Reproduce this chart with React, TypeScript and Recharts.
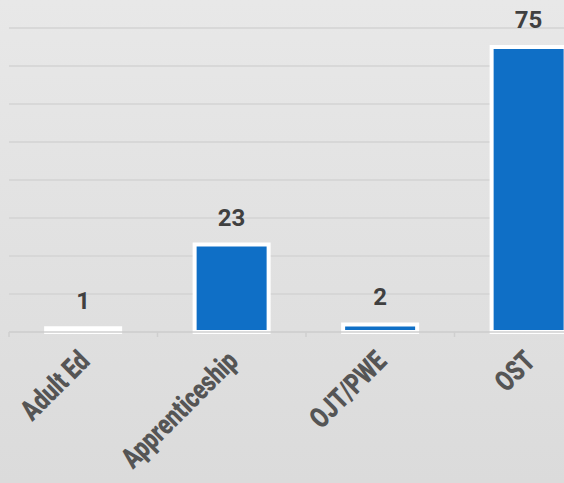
import * as React from "react";
import { Bar, BarChart, CartesianGrid, LabelList, XAxis, YAxis } from "recharts";

const categories = ["Adult Ed", "Apprenticeship", "OJT/PWE", "OST"];
const counts = [1, 23, 2, 75];
const yTicks = [0, 10, 20, 30, 40, 50, 60, 70, 80];

const CHART_W = 603;
const CHART_H = 483;
const MARGIN = { top: 28, right: 0, left: 9, bottom: 0 };
const BAND = (CHART_W - MARGIN.left - MARGIN.right) / categories.length;

const data = categories.map((name, i) => ({ name, value: counts[i] }));

function CategoryTick(props: any) {
  const { x, y, payload, index } = props;
  return (
    <g transform={`translate(${x},${y})`}>
      <line x1={-BAND / 2} x2={-BAND / 2} y1={0} y2={5} stroke="#cfcfcf" strokeWidth={1.5} />
      {index === categories.length - 1 && (
        <line x1={BAND / 2} x2={BAND / 2} y1={0} y2={5} stroke="#cfcfcf" strokeWidth={1.5} />
      )}
      <text
        x={0}
        y={0}
        transform="translate(8,31) rotate(-45) scale(0.88,1.15)"
        textAnchor="end"
        fill="#555555"
        fontFamily="Roboto, sans-serif"
        fontWeight={900}
        fontSize={25}
      >
        {payload.value}
      </text>
    </g>
  );
}

export default function App() {
  return (
    <div
      style={{
        position: "absolute",
        left: 0,
        top: 0,
        width: 564,
        height: 483,
        overflow: "hidden",
        background: "linear-gradient(180deg, #e8e8e8 0%, #e0e0e0 60%, #dbdbdb 100%)",
      }}
    >
      <BarChart width={CHART_W} height={CHART_H} data={data} margin={MARGIN} barCategoryGap="25%">
        <CartesianGrid vertical={false} stroke="#d3d3d3" strokeWidth={1.5} />
        <YAxis hide domain={[0, 80]} ticks={yTicks} />
        <XAxis
          dataKey="name"
          height={151}
          interval={0}
          tickLine={false}
          tickSize={0}
          tickMargin={0}
          axisLine={{ stroke: "#cfcfcf", strokeWidth: 1.5 }}
          tick={<CategoryTick />}
        />
        <Bar dataKey="value" fill="#0f6fc6" stroke="#ffffff" strokeWidth={4} isAnimationActive={false}>
          <LabelList
            dataKey="value"
            position="top"
            offset={19}
            fill="#404040"
            fontFamily="Roboto, sans-serif"
            fontWeight="bold"
            fontSize={24}
          />
        </Bar>
      </BarChart>
    </div>
  );
}
